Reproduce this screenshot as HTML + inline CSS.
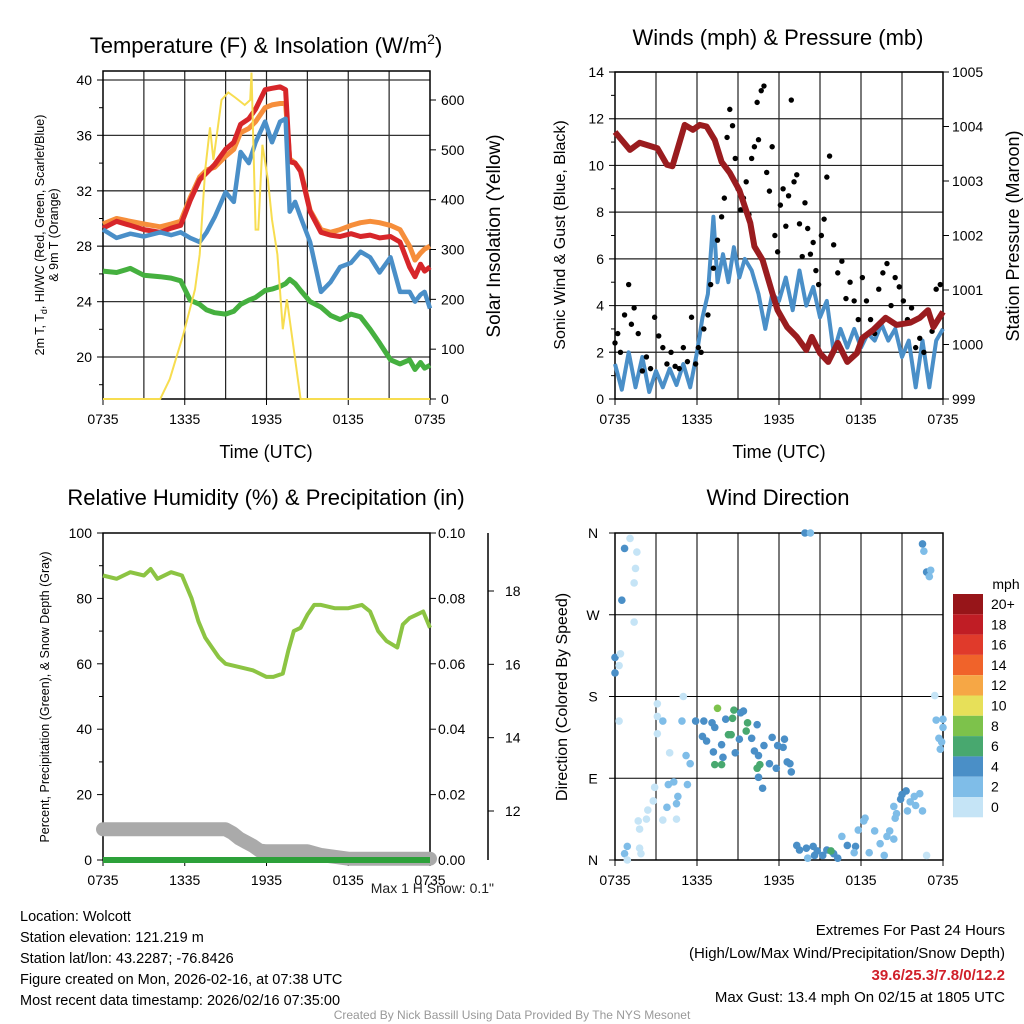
<!DOCTYPE html>
<html><head><meta charset="utf-8"><style>
html,body{margin:0;padding:0;background:#fff}
svg{display:block;font-family:"Liberation Sans",sans-serif}
</style></head><body>
<svg id="c" width="1024" height="1024" viewBox="0 0 1024 1024"></svg>
<script>
// ---------- DATA ----------
const timeLabels=["0735","1335","1935","0135","0735"];
const tempT=[0,1,2,3,4.2,5,5.7,6.4,7.1,7.6,8.2,9.0,9.6,10.1,10.7,11.2,11.9,12.4,13.0,13.4,13.7,14.1,14.5,15.2,16.0,16.7,17.4,18.2,18.9,19.6,20.3,21.1,21.8,22.5,22.9,23.3,23.6,24];
const tempRed=[29.3,29.8,29.5,29.2,29.0,29.3,29.5,31.3,32.8,33.3,33.9,35.0,35.5,36.8,37.2,37.9,39.3,39.4,39.5,39.3,34.1,34.0,33.4,30.5,29.0,28.8,28.7,28.9,28.7,28.8,28.6,28.7,28.3,26.5,25.8,26.7,26.2,26.5];
const tempOrange=[29.6,30.0,29.8,29.6,29.4,29.6,29.8,31.5,33.0,33.5,33.7,34.5,35.0,36.2,36.5,37.0,38.0,38.2,38.3,38.3,34.3,34.0,33.5,30.6,29.2,29.0,29.2,29.5,29.7,29.8,29.7,29.5,29.2,28.0,27.0,27.5,27.8,28.0];
const tempBlue=[29.2,28.6,28.9,28.7,29.0,28.8,29.0,28.6,28.3,29.0,30.1,31.9,31.2,34.8,34.0,35.5,37.0,35.5,37.0,37.2,30.5,31.2,30.1,28.3,24.7,25.4,26.5,26.8,27.6,27.2,26.1,27.2,24.7,24.7,24.0,24.5,24.7,23.5];
const tempGreen=[26.2,26.1,26.4,25.9,25.8,25.7,25.5,24.1,23.8,23.4,23.2,23.1,23.3,23.8,24.1,24.3,24.8,24.9,25.1,25.3,25.6,25.3,24.8,24.0,23.6,23.0,22.7,23.1,22.9,22.0,21.0,19.8,19.5,19.8,19.1,19.6,19.2,19.4];
const solarT=[0,4.2,4.9,5.9,6.75,7.1,7.5,7.85,8.1,8.4,8.7,9.2,9.7,10.4,10.8,10.9,11.2,11.4,11.7,12.1,12.4,12.8,13.2,13.5,13.9,14.5,24];
const solarW=[0,0,40,130,220,290,460,545,480,540,600,615,605,590,600,655,340,340,510,440,360,290,140,200,120,0,0];
const windT=[0,0.5,1,1.5,2,2.5,3,3.5,4,4.5,5,5.5,6,6.4,6.8,7.2,7.5,7.9,8.3,8.7,9.1,9.5,10,10.5,11,11.5,12,12.5,13,13.5,14,14.5,15,15.5,16,16.5,17,17.5,18,18.5,19,19.5,20,20.5,21,21.5,22,22.5,23,23.5,24];
const windMph=[1.5,0.4,2.0,0.5,1.8,0.3,1.2,0.5,1.3,0.6,1.5,0.5,2.0,3.5,4.5,7.8,5.0,6.2,5.0,6.5,5.2,6.0,5.5,4.5,3.0,4.5,4.2,5.2,3.8,5.5,4.0,4.8,3.5,4.2,2.0,3.0,2.2,3.0,2.2,2.8,2.5,3.2,2.5,3.0,1.8,2.5,0.5,2.5,0.5,2.5,3.0];
const gustT=[0,0.2,0.4,0.7,1.0,1.2,1.4,1.7,2.0,2.3,2.6,2.9,3.2,3.5,3.8,4.1,4.4,4.7,5.0,5.3,5.6,5.9,6.1,6.3,6.5,6.8,7.0,7.2,7.5,7.8,8.0,8.2,8.4,8.6,8.8,9.0,9.2,9.4,9.6,9.8,10.0,10.2,10.4,10.5,10.7,10.9,11.1,11.3,11.5,11.7,11.9,12.1,12.3,12.5,12.7,12.9,13.1,13.3,13.5,13.7,13.9,14.1,14.3,14.5,14.7,14.9,15.1,15.3,15.5,15.7,16.0,16.3,16.6,16.9,17.2,17.5,17.8,18.1,18.4,18.7,19.0,19.3,19.6,19.9,20.2,20.5,20.8,21.1,21.4,21.7,22.0,22.3,22.6,22.9,23.2,23.5,23.8];
const gustMph=[2.4,2.8,2.0,3.6,4.9,3.2,3.9,2.8,1.2,1.8,1.3,3.5,2.7,2.2,1.5,2.0,1.4,1.3,2.2,1.6,3.5,1.5,2.2,2.0,3.0,3.6,4.9,5.6,6.8,7.8,8.6,11.2,12.4,11.7,10.3,9.0,8.1,8.6,9.3,7.9,10.3,10.8,12.7,11.1,13.2,13.4,9.7,8.9,10.8,7.0,6.3,8.3,9.0,7.4,8.7,12.8,9.3,9.6,7.5,6.1,8.4,7.3,6.2,6.7,5.5,4.9,7.0,7.7,9.5,10.4,6.6,5.4,5.9,4.3,5.0,4.2,3.4,5.2,4.2,3.4,2.8,4.7,5.4,5.8,4.0,5.2,4.8,4.2,3.4,3.9,2.2,2.6,2.0,3.8,2.9,4.7,4.9];
const presT=[0,1.1,1.8,3.1,3.8,4.2,5.1,5.7,6.2,6.7,7.3,7.8,8.4,9.1,9.9,10.2,10.8,11.5,11.9,12.6,13.3,14.0,14.4,15.0,15.6,16.3,17.0,17.7,18.1,18.9,19.8,20.6,21.6,22.3,22.9,23.3,24];
const presMb=[1003.9,1003.57,1003.7,1003.6,1003.3,1003.27,1004.03,1003.94,1004.03,1004.0,1003.75,1003.35,1003.15,1002.83,1002.23,1001.8,1001.55,1000.95,1000.63,1000.32,1000.14,999.9,1000.14,999.84,999.68,1000.03,999.68,999.84,1000.12,1000.27,1000.49,1000.36,1000.4,1000.49,1000.63,1000.32,1000.6];
const rhT=[0,1,2,3,3.5,4,5,5.8,6.5,7,7.5,8,8.5,9,10,11,12,12.5,13.2,13.6,14,14.5,15,15.5,16,17,18,19,19.6,20.2,20.8,21.2,21.6,22,22.5,23,23.5,24];
const rhPct=[87,86,88,87,89,86,88,87,80,73,68,65,62,60,59,58,56,56,57,64,70,71,75,78,78,77,77,78,76,70,67,66,65,72,74,75,76,71];
const snowT=[0,1,2,3,4,5,6,7,8,9,9.5,10,10.5,11,11.5,12,13,14,15,16,17,18,19,20,21,22,23,24];
const snowIn=[11.5,11.5,11.5,11.5,11.5,11.5,11.5,11.5,11.5,11.5,11.4,11.25,11.15,11.05,10.92,10.9,10.9,10.9,10.9,10.8,10.75,10.7,10.7,10.7,10.7,10.7,10.7,10.7];
const precT=[0,24];
const precIn=[0,0];
const dirT=[0,0,0.4,0.3,0.5,0.7,1.1,1.6,1.5,1.4,1.4,0.3,0.7,0.9,0.9,1.8,1.9,1.7,1.8,2.3,2.4,2.8,2.9,3.1,3.1,3.1,3.5,3.5,3.8,3.9,4.0,4.3,4.5,4.6,4.5,4.9,5.0,5.3,5.2,5.5,5.9,6.5,6.4,6.7,7.2,7.1,7.5,7.3,7.8,8.1,8.3,8.5,8.6,8.7,9.1,8.8,7.9,7.3,7.8,9.2,9.4,9.7,9.6,10.0,10.4,10.2,10.5,10.6,10.4,10.5,10.8,10.9,11.5,11.9,11.8,12.3,12.6,12.8,12.9,12.4,11.3,13.9,14.3,13.3,13.5,14.0,14.5,14.8,15.2,15.5,16.0,15.8,16.3,14.1,14.6,17.0,16.6,17.6,17.5,17.8,18.3,18.2,18.6,19.0,19.4,19.7,19.9,20.1,20.4,20.5,20.4,20.6,20.9,21.0,21.3,21.4,21.6,21.9,22.0,22.3,22.5,22.8,22.5,22.6,22.8,23.0,23.1,23.4,23.5,23.7,23.8,23.9,24,24];
const dirDeg=[223,206,227,214,286,343,354,339,321,305,262,153,7,15,0,13,7,43,34,45,55,65,80,139,172,158,153,44,58,83,118,86,62,70,45,153,180,83,115,106,153,153,136,131,119,151,167,146,127,155,138,138,156,165,133,118,113,105,105,162,164,151,142,134,149,120,115,105,101,91,79,126,135,126,101,124,108,106,97,133,106,360,360,16,11,13,15,10,5,11,7,10,2,2,5,16,26,15,8,33,46,43,8,32,18,5,26,32,23,46,59,51,67,72,76,54,64,70,60,73,54,5,348,340,317,312,319,181,154,134,122,130,155,146];
const dirSpd=[4,4,0,0,4,4,0,0,0,0,0,0,2,2,0,0,0,0,0,0,0,0,0,0,0,0,1,0,1,1,0,1,1,1,0,1,0,1,1,2,4,4,4,4,4,4,8,4,4,4,6,6,6,6,4,4,4,6,6,4,4,6,6,4,4,4,4,6,6,4,4,4,4,4,4,4,4,4,4,4,4,4,2,4,4,4,4,4,4,4,4,6,4,2,4,4,2,4,2,2,2,2,2,2,2,2,2,2,2,2,2,2,4,4,4,2,2,2,2,2,2,0,4,1,4,2,2,0,1,2,2,2,2,2];
const cbLabels=["20+","18","16","14","12","10","8","6","4","2","0"];
const cbColors=["#971519","#c01d25","#e03a2b","#f0632a","#f6a745","#e7e059","#7dc24b","#48a86f","#4a8fc7","#7fbde8","#c5e4f6"];

// ---------- HELPERS ----------
const NS="http://www.w3.org/2000/svg";
const svg=document.getElementById('c');
function el(tag,attrs,parent,txt){const e=document.createElementNS(NS,tag);for(const k in attrs)e.setAttribute(k,attrs[k]);if(txt!==undefined)e.textContent=txt;(parent||svg).appendChild(e);return e;}
function lin(d0,d1,r0,r1){return v=>r0+(v-d0)/(d1-d0)*(r1-r0);}
function poly(xs,ys,fx,fy){return xs.map((t,i)=>fx(t).toFixed(1)+","+fy(ys[i]).toFixed(1)).join(" ");}
function txt(x,y,s,size,anchor,parent,extra){return el('text',Object.assign({x:x,y:y,'font-size':size,'text-anchor':anchor||'middle',fill:'#000'},extra||{}),parent,s);}
function frame(g,x0,y0,x1,y1,vgrid){
  for(let h=3;h<24;h+=3){const x=x0+(x1-x0)*h/24;if(vgrid)el('line',{x1:x,y1:y0,x2:x,y2:y1,stroke:'#222','stroke-width':1.2},g);}
  for(let i=0;i<timeLabels.length;i++){const x=x0+(x1-x0)*i/4;el('line',{x1:x,y1:y1,x2:x,y2:y1+6,stroke:'#000'},g);
    const l=txt(x,y1+25,timeLabels[i],14,'middle',g);
    
    }
}

// ---------- PANEL 1 ----------
(function(){
const g=el('g',{});
const X0=103,X1=430,Y0=71,Y1=399;
const fx=lin(0,24,X0,X1), fy=lin(20,40,357,80), fs=lin(0,600,399,100);
frame(g,X0,Y0,X1,Y1,true);
[20,24,28,32,36,40].forEach(v=>{const y=fy(v);el('line',{x1:X0-6,y1:y,x2:X1,y2:y,stroke:'#333','stroke-width':1.3},g);
  const l=txt(X0-11,y+5,String(v),14,'end',g);});
[18,22,26,30,34,38].forEach(v=>el('line',{x1:X0-4,y1:fy(v),x2:X0,y2:fy(v),stroke:'#000'},g));
[0,100,200,300,400,500,600].forEach(v=>{const y=fs(v);el('line',{x1:X1,y1:y,x2:X1+6,y2:y,stroke:'#000'},g);
  const l=txt(X1+11,y+5,String(v),14,'start',g);});
el('rect',{x:X0,y:Y0,width:X1-X0,height:Y1-Y0,fill:'none',stroke:'#000','stroke-width':1.5},g);
const s1=el('polyline',{points:poly(tempT,tempOrange,fx,fy),fill:'none',stroke:'#f68e3b','stroke-width':5,'stroke-linejoin':'round'},g);

const s2=el('polyline',{points:poly(tempT,tempRed,fx,fy),fill:'none',stroke:'#d7262a','stroke-width':5,'stroke-linejoin':'round'},g);

const s3=el('polyline',{points:poly(tempT,tempBlue,fx,fy),fill:'none',stroke:'#4a8fc8','stroke-width':4.5,'stroke-linejoin':'round'},g);

const s4=el('polyline',{points:poly(tempT,tempGreen,fx,fy),fill:'none',stroke:'#45b03f','stroke-width':5,'stroke-linejoin':'round'},g);

const s5=el('polyline',{points:poly(solarT,solarW,fx,fs),fill:'none',stroke:'#f7dd50','stroke-width':2},g);

const t=el('text',{x:266,y:53,'font-size':22,'text-anchor':'middle',},g);
t.innerHTML='Temperature (F) &amp; Insolation (W/m<tspan dy="-9" font-size="14">2</tspan><tspan dy="9">)</tspan>';
txt(266,458,'Time (UTC)',18,'middle',g,{});
const yt=el('text',{transform:'translate(44,235) rotate(-90)','font-size':12.5,'text-anchor':'middle',},g);
yt.innerHTML='2m T, T<tspan font-size="9" dy="3">d</tspan><tspan dy="-3">, HI/WC (Red, Green, Scarlet/Blue)</tspan>';
txt(0,0,'& 9m T (Orange)',12.5,'middle',g,{transform:'translate(58,235) rotate(-90)',});
txt(0,0,'Solar Insolation (Yellow)',19,'middle',g,{transform:'translate(500,236) rotate(-90)',});
})();

// ---------- PANEL 2 ----------
(function(){
const g=el('g',{});
const X0=615,X1=943,Y0=72,Y1=399;
const fx=lin(0,24,X0,X1), fy=lin(0,14,Y1,Y0), fp=lin(999,1005,Y1,Y0);
frame(g,X0,Y0,X1,Y1,true);
for(let v=0;v<=14;v+=2){const y=fy(v);el('line',{x1:X0-6,y1:y,x2:X1,y2:y,stroke:'#222','stroke-width':1.2},g);
  const l=txt(X0-11,y+5,String(v),14,'end',g);}
for(let v=1;v<14;v+=2)el('line',{x1:X0-4,y1:fy(v),x2:X0,y2:fy(v),stroke:'#000'},g);
for(let v=999;v<=1005;v++){const y=fp(v);el('line',{x1:X1,y1:y,x2:X1+6,y2:y,stroke:'#000'},g);
  const l=txt(X1+9,y+5,String(v),14,'start',g);}
el('rect',{x:X0,y:Y0,width:X1-X0,height:Y1-Y0,fill:'none',stroke:'#000','stroke-width':1.5},g);
const w=el('polyline',{points:poly(windT,windMph,fx,fy),fill:'none',stroke:'#4a8fc8','stroke-width':4,'stroke-linejoin':'round'},g);

gustT.forEach((t,i)=>{const c=el('circle',{cx:fx(t),cy:fy(gustMph[i]),r:2.7,fill:'#000'},g);
  });
const p=el('polyline',{points:poly(presT,presMb,fx,fp),fill:'none',stroke:'#9a1c1f','stroke-width':6,'stroke-linejoin':'round'},g);

txt(778,45,'Winds (mph) & Pressure (mb)',22,'middle',g,{});
txt(779,458,'Time (UTC)',18,'middle',g,{});
txt(0,0,'Sonic Wind & Gust (Blue, Black)',16,'middle',g,{transform:'translate(565,235) rotate(-90)',});
txt(0,0,'Station Pressure (Maroon)',18,'middle',g,{transform:'translate(1019,236) rotate(-90)',});
})();

// ---------- PANEL 3 ----------
(function(){
const g=el('g',{});
const X0=103,X1=430,Y0=533,Y1=860;
const fx=lin(0,24,X0,X1), fy=lin(0,100,Y1,Y0), fpr=lin(0,0.1,Y1,Y0), fsn=lin(12,18,811,591);
frame(g,X0,Y0,X1,Y1,false);
for(let v=0;v<=100;v+=20){const y=fy(v);el('line',{x1:X0-6,y1:y,x2:X0,y2:y,stroke:'#000'},g);
  const l=txt(X0-11,y+5,String(v),14,'end',g);}
for(let v=10;v<100;v+=20)el('line',{x1:X0-4,y1:fy(v),x2:X0,y2:fy(v),stroke:'#000'},g);
for(let i=0;i<=5;i++){const v=i*0.02,y=fpr(v);el('line',{x1:X1,y1:y,x2:X1+6,y2:y,stroke:'#000'},g);
  const l=txt(X1+8,y+5,v.toFixed(2),14,'start',g);}
el('line',{x1:488,y1:Y0,x2:488,y2:Y1,stroke:'#000','stroke-width':1.5},g);
[12,14,16,18].forEach(v=>{const y=fsn(v);el('line',{x1:488,y1:y,x2:494,y2:y,stroke:'#000'},g);
  const l=txt(505,y+5,String(v),14,'start',g);});
el('rect',{x:X0,y:Y0,width:X1-X0,height:Y1-Y0,fill:'none',stroke:'#000','stroke-width':1.5},g);
const sn=el('polyline',{points:poly(snowT,snowIn,fx,fsn),fill:'none',stroke:'#aaaaaa','stroke-width':14,'stroke-linejoin':'round','stroke-linecap':'round'},g);

const rh=el('polyline',{points:poly(rhT,rhPct,fx,fy),fill:'none',stroke:'#8cc443','stroke-width':4,'stroke-linejoin':'round'},g);

const pr=el('polyline',{points:poly(precT,precIn,fx,fpr),fill:'none',stroke:'#2da13a','stroke-width':6},g);

txt(266,505,'Relative Humidity (%) & Precipitation (in)',22,'middle',g,{});
txt(0,0,'Percent, Precipitation (Green), & Snow Depth (Gray)',12.5,'middle',g,{transform:'translate(49,697) rotate(-90)',});
txt(494,893,'Max 1 H Snow: 0.1"',14,'end',g,{fill:'#222',});
})();

// ---------- PANEL 4 ----------
(function(){
const g=el('g',{});
const X0=615,X1=943,Y0=533,Y1=860;
const fx=lin(0,24,X0,X1), fy=lin(0,360,Y1,Y0);
frame(g,X0,Y0,X1,Y1,true);
["N","E","S","W","N"].forEach((s,i)=>{const y=fy(i*90);el('line',{x1:X0-6,y1:y,x2:X1,y2:y,stroke:'#000'},g);
  const l=txt(X0-22,y+5,s,14,'middle',g);});
el('rect',{x:X0,y:Y0,width:X1-X0,height:Y1-Y0,fill:'none',stroke:'#000','stroke-width':1.5},g);
dirT.forEach((t,i)=>{const idx=Math.min(10,Math.round(dirSpd[i]/2));const c=el('circle',{cx:fx(t),cy:fy(dirDeg[i]),r:3.8,fill:cbColors[10-idx]},g);
  });
txt(778,505,'Wind Direction',22,'middle',g,{});
txt(0,0,'Direction (Colored By Speed)',16,'middle',g,{transform:'translate(567,697) rotate(-90)',});
txt(1006,589,'mph',14,'middle',g,{});
cbColors.forEach((c,i)=>{const r=el('rect',{x:953,y:594+i*20.3,width:30,height:20.3,fill:c},g);
  
  const l=txt(991,609+i*20.3,cbLabels[i],14,'start',g);});
})();

// ---------- FOOTER ----------
(function(){
const g=el('g',{});
["Location: Wolcott","Station elevation: 121.219 m","Station lat/lon: 43.2287; -76.8426","Figure created on Mon, 2026-02-16, at 07:38 UTC","Most recent data timestamp: 2026/02/16 07:35:00"].forEach((s,i)=>{
  const l=txt(20,921+i*21,s,14.5,'start',g);});
txt(1005,935,'Extremes For Past 24 Hours',15,'end',g,{});
txt(1005,958,'(High/Low/Max Wind/Precipitation/Snow Depth)',15,'end',g,{});
txt(1005,980,'39.6/25.3/7.8/0/12.2',15,'end',g,{fill:'#d0202a','font-weight':'bold',});
txt(1005,1002,'Max Gust: 13.4 mph On 02/15 at 1805 UTC',15,'end',g,{});
txt(512,1019,'Created By Nick Bassill Using Data Provided By The NYS Mesonet',12,'middle',g,{fill:'#999',});
})();
</script>
</body></html>
